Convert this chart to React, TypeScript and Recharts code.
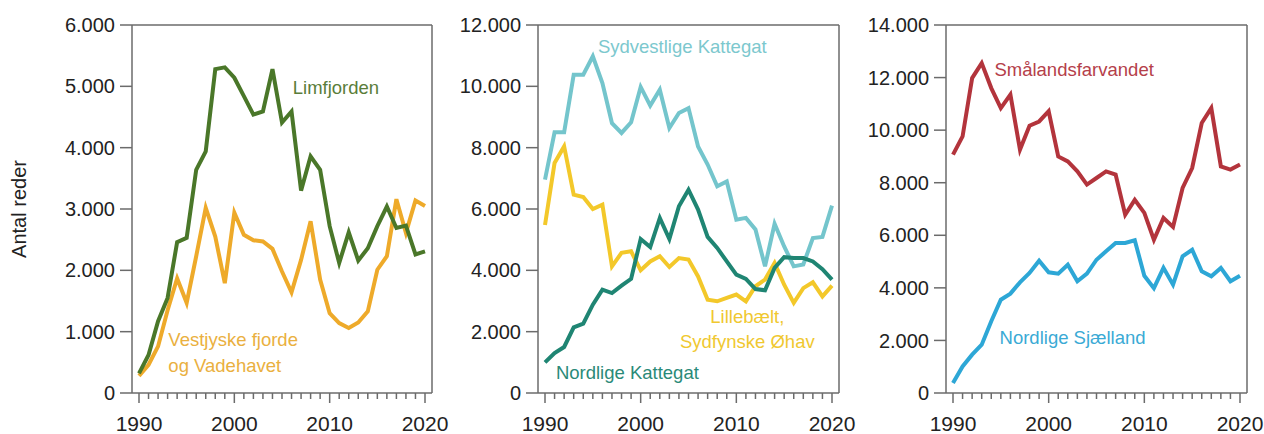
import { LineChart, Line, XAxis, YAxis, ReferenceDot, CartesianGrid } from "recharts";

const years = [
  1990, 1991, 1992, 1993, 1994, 1995, 1996, 1997, 1998, 1999, 2000, 2001, 2002, 2003, 2004, 2005,
  2006, 2007, 2008, 2009, 2010, 2011, 2012, 2013, 2014, 2015, 2016, 2017, 2018, 2019, 2020,
];

// Panel 1
const limfjorden = [
  320, 620, 1170, 1550, 2460, 2530, 3640, 3940, 5280, 5310, 5140, 4840, 4540, 4590, 5280, 4410,
  4590, 3300, 3860, 3640, 2720, 2120, 2620, 2160, 2360, 2720, 3040, 2690, 2730, 2260, 2310,
];
const vestjyske = [
  280, 460, 760, 1350, 1870, 1470, 2230, 3020, 2550, 1790, 2940, 2580, 2490, 2470, 2350, 1980,
  1640, 2170, 2800, 1850, 1300, 1140, 1060, 1150, 1330, 2010, 2230, 3160, 2610, 3140, 3050,
];

// Panel 2
const sydvestligeKattegat = [
  6960, 8500, 8500, 10380, 10380, 10980, 10110, 8800, 8480, 8830, 9980, 9370, 9890, 8640, 9130, 9290,
  8040, 7450, 6740, 6900, 5650, 5710, 5330, 4130, 5520, 4780, 4130, 4190, 5050, 5090, 6110,
];
const lillebaelt = [
  5480, 7500, 8040, 6470, 6390, 6000, 6140, 4130, 4570, 4620, 4000, 4290, 4460, 4110, 4400, 4350,
  3800, 3040, 2990, 3100, 3210, 2990, 3480, 3700, 4240, 3530, 2940, 3420, 3610, 3150, 3500,
];
const nordligeKattegat = [
  1000, 1300, 1500, 2140, 2260, 2880, 3370, 3260, 3500, 3720, 5020, 4760, 5710, 5020, 6090, 6630,
  5980, 5090, 4730, 4290, 3860, 3720, 3390, 3350, 4080, 4430, 4400, 4400, 4290, 4040, 3700,
];

// Panel 3
const smaalandsfarvandet = [
  9070, 9760, 11980, 12550, 11600, 10840, 11350, 9260, 10170, 10330, 10720, 9000, 8810, 8430, 7930, 8180,
  8430, 8310, 6780, 7350, 6850, 5830, 6660, 6320, 7800, 8560, 10270, 10840, 8620, 8500, 8690,
];
const nordligeSjaelland = [
  380, 1010, 1460, 1840, 2730, 3550, 3780, 4210, 4570, 5030, 4590, 4540, 4880, 4250, 4540, 5070,
  5390, 5710, 5710, 5810, 4460, 3990, 4760, 4120, 5200, 5450, 4630, 4440, 4760, 4250, 4460,
];

const ticks1 = [0, 1000, 2000, 3000, 4000, 5000, 6000];
const ticks2 = [0, 2000, 4000, 6000, 8000, 10000, 12000];
const ticks3 = [0, 2000, 4000, 6000, 8000, 10000, 12000, 14000];

const AXIS = "#6b6b6b";
const TEXT = "#222";
const FONT = "'Liberation Sans', Arial, sans-serif";

const fmt = (v: number) =>
  v >= 1000 ? `${Math.floor(v / 1000)}.${String(v % 1000).padStart(3, "0")}` : String(v);

function YearTick({ x, y, payload }: any) {
  const major = payload.value % 10 === 0;
  return (
    <g>
      <line x1={x} x2={x} y1={y} y2={y + (major ? 10 : 6)} stroke={AXIS} strokeWidth={1.5} />
      {major && (
        <text x={x} y={y + 38} textAnchor="middle" fontSize={21} fill={TEXT}>
          {payload.value}
        </text>
      )}
    </g>
  );
}

function Panel({
  left,
  width,
  yWidth,
  right,
  ticks,
  data,
  children,
  label,
}: {
  left: number;
  width: number;
  yWidth: number;
  right: number;
  ticks: number[];
  data: any[];
  children: React.ReactNode;
  label?: string;
}) {
  const max = ticks[ticks.length - 1];
  return (
    <div style={{ position: "absolute", left, top: 0 }}>
      <LineChart width={width} height={434} data={data} margin={{ top: 25, right, bottom: 0, left: 0 }}>
        {/* frame: top and right edges of the plot box */}
        <CartesianGrid
          stroke={AXIS}
          strokeWidth={1.5}
          horizontalCoordinatesGenerator={({ offset }: any) => [offset.top]}
          verticalCoordinatesGenerator={({ offset }: any) => [offset.left + offset.width]}
        />
        <XAxis
          dataKey="year"
          type="number"
          domain={[1990, 2020]}
          ticks={years}
          interval={0}
          padding={{ left: 7, right: 7 }}
          height={41}
          tickSize={0}
          tickMargin={0}
          tickLine={false}
          tick={<YearTick />}
          axisLine={{ stroke: AXIS, strokeWidth: 1.5 }}
        />
        <YAxis
          type="number"
          domain={[0, max]}
          ticks={ticks}
          interval={0}
          width={yWidth}
          tickSize={12}
          tickMargin={5}
          tickFormatter={fmt}
          tick={{ fontSize: 20, fill: TEXT }}
          tickLine={{ stroke: AXIS, strokeWidth: 1.5 }}
          axisLine={{ stroke: AXIS, strokeWidth: 1.5 }}
          label={
            label
              ? ({ viewBox }: any) => (
                  <text
                    x={19}
                    y={viewBox.y + viewBox.height / 2}
                    transform={`rotate(-90 19 ${viewBox.y + viewBox.height / 2})`}
                    textAnchor="middle"
                    dominantBaseline="central"
                    fontSize={20}
                    fill={TEXT}
                  >
                    {label}
                  </text>
                )
              : undefined
          }
        />
        {children}
      </LineChart>
    </div>
  );
}

const tag = (value: string, fill: string, anchor: "start" | "middle" = "middle") =>
  ({ viewBox }: any) => (
    <text
      x={viewBox.x + viewBox.width / 2}
      y={viewBox.y + viewBox.height / 2}
      textAnchor={anchor}
      dominantBaseline="central"
      fontSize={18.5}
      fill={fill}
    >
      {value}
    </text>
  );

export default function App() {
  const data1 = years.map((year, i) => ({ year, limfjorden: limfjorden[i], vestjyske: vestjyske[i] }));
  const data2 = years.map((year, i) => ({
    year,
    sydvestlige: sydvestligeKattegat[i],
    lillebaelt: lillebaelt[i],
    nordlige: nordligeKattegat[i],
  }));
  const data3 = years.map((year, i) => ({
    year,
    smaaland: smaalandsfarvandet[i],
    sjaelland: nordligeSjaelland[i],
  }));

  return (
    <div
      style={{
        position: "absolute",
        left: 0,
        top: 0,
        width: 1264,
        height: 434,
        background: "#fff",
        fontFamily: FONT,
      }}
    >
      <style>{`svg.recharts-surface { overflow: visible; }`}</style>
      <Panel left={0} width={440} yWidth={132} right={8} ticks={ticks1} data={data1} label="Antal reder">
        <Line dataKey="vestjyske" stroke="#eeaa2a" strokeWidth={4} dot={false} isAnimationActive={false} />
        <Line dataKey="limfjorden" stroke="#4a7729" strokeWidth={4} dot={false} isAnimationActive={false} />
        <ReferenceDot x={2010.66} y={4978} r={0} stroke="none" label={tag("Limfjorden", "#5a7d3a")} />
        <ReferenceDot x={1993.08} y={869} r={0} stroke="none" label={tag("Vestjyske fjorde", "#eab040", "start")} />
        <ReferenceDot x={1993.08} y={445} r={0} stroke="none" label={tag("og Vadehavet", "#eab040", "start")} />
      </Panel>
      <Panel left={440} width={410} yWidth={98} right={11} ticks={ticks2} data={data2}>
        <Line dataKey="sydvestlige" stroke="#74c5cc" strokeWidth={4} dot={false} isAnimationActive={false} />
        <Line dataKey="lillebaelt" stroke="#f3c82a" strokeWidth={4} dot={false} isAnimationActive={false} />
        <Line dataKey="nordlige" stroke="#1f8573" strokeWidth={4} dot={false} isAnimationActive={false} />
        <ReferenceDot x={2004.35} y={11302} r={0} stroke="none" label={tag("Sydvestlige Kattegat", "#7cc8ce")} />
        <ReferenceDot x={2011.15} y={2498} r={0} stroke="none" label={tag("Lillebælt,", "#f0c830")} />
        <ReferenceDot x={2011.15} y={1683} r={0} stroke="none" label={tag("Sydfynske Øhav", "#f0c830")} />
        <ReferenceDot x={1998.61} y={672} r={0} stroke="none" label={tag("Nordlige Kattegat", "#2a8a78")} />
      </Panel>
      <Panel left={850} width={414} yWidth={96} right={17} ticks={ticks3} data={data3}>
        <Line dataKey="smaaland" stroke="#b3343c" strokeWidth={4} dot={false} isAnimationActive={false} />
        <Line dataKey="sjaelland" stroke="#2da7d6" strokeWidth={4} dot={false} isAnimationActive={false} />
        <ReferenceDot x={2002.66} y={12299} r={0} stroke="none" label={tag("Smålandsfarvandet", "#b5404a")} />
        <ReferenceDot x={2002.5} y={2104} r={0} stroke="none" label={tag("Nordlige Sjælland", "#3aaad5")} />
      </Panel>
    </div>
  );
}
